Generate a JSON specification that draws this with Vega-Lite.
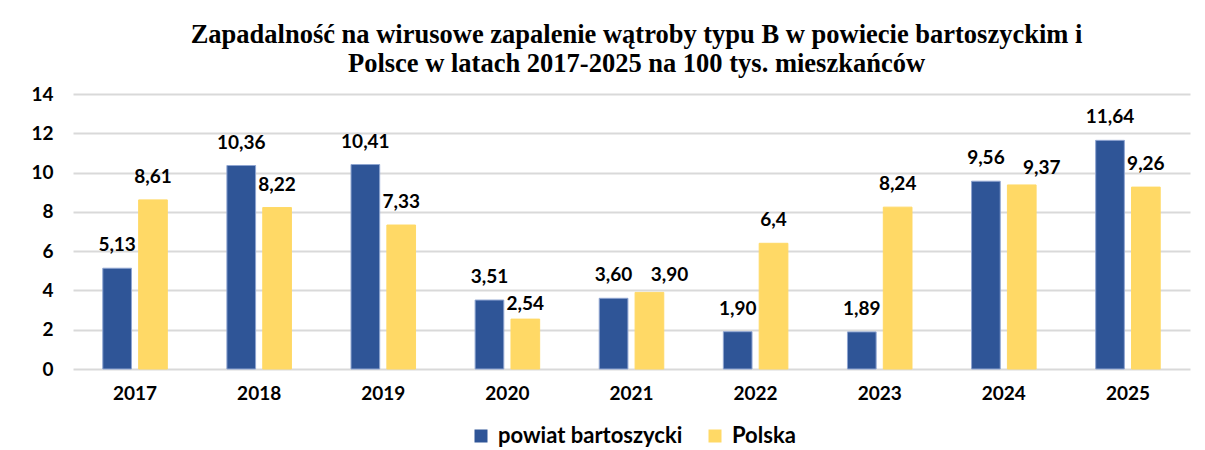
{
  "$schema": "https://vega.github.io/schema/vega-lite/v6.json",
  "width": 1117,
  "height": 275,
  "autosize": {"type": "none"},
  "padding": {"left": 73, "top": 94, "right": 15, "bottom": 81},
  "background": "white",
  "title": {
    "text": ["Zapadalność na wirusowe zapalenie wątroby typu B w powiecie bartoszyckim i", "Polsce w latach 2017-2025  na 100 tys. mieszkańców"],
    "font": "Liberation Serif",
    "fontSize": 26.5,
    "fontWeight": "bold",
    "color": "black",
    "lineHeight": 29,
    "offset": 8,
    "anchor": "middle",
    "dx": 5
  },
  "data": {
    "values": [
      {"rok": "2017", "seria": "powiat bartoszycki", "wartosc": 5.13, "etykieta": "5,13"},
      {"rok": "2017", "seria": "Polska", "wartosc": 8.61, "etykieta": "8,61"},
      {"rok": "2018", "seria": "powiat bartoszycki", "wartosc": 10.36, "etykieta": "10,36"},
      {"rok": "2018", "seria": "Polska", "wartosc": 8.22, "etykieta": "8,22"},
      {"rok": "2019", "seria": "powiat bartoszycki", "wartosc": 10.41, "etykieta": "10,41"},
      {"rok": "2019", "seria": "Polska", "wartosc": 7.33, "etykieta": "7,33"},
      {"rok": "2020", "seria": "powiat bartoszycki", "wartosc": 3.51, "etykieta": "3,51"},
      {"rok": "2020", "seria": "Polska", "wartosc": 2.54, "etykieta": "2,54"},
      {"rok": "2021", "seria": "powiat bartoszycki", "wartosc": 3.60, "etykieta": "3,60"},
      {"rok": "2021", "seria": "Polska", "wartosc": 3.90, "etykieta": "3,90"},
      {"rok": "2022", "seria": "powiat bartoszycki", "wartosc": 1.90, "etykieta": "1,90"},
      {"rok": "2022", "seria": "Polska", "wartosc": 6.4, "etykieta": "6,4"},
      {"rok": "2023", "seria": "powiat bartoszycki", "wartosc": 1.89, "etykieta": "1,89"},
      {"rok": "2023", "seria": "Polska", "wartosc": 8.24, "etykieta": "8,24"},
      {"rok": "2024", "seria": "powiat bartoszycki", "wartosc": 9.56, "etykieta": "9,56"},
      {"rok": "2024", "seria": "Polska", "wartosc": 9.37, "etykieta": "9,37"},
      {"rok": "2025", "seria": "powiat bartoszycki", "wartosc": 11.64, "etykieta": "11,64"},
      {"rok": "2025", "seria": "Polska", "wartosc": 9.26, "etykieta": "9,26"}
    ]
  },
  "encoding": {
    "x": {
      "field": "rok",
      "type": "nominal",
      "title": null,
      "scale": {"paddingInner": 0.48, "paddingOuter": 0.24},
      "axis": {
        "labelAngle": 0,
        "domain": false,
        "ticks": false,
        "labelFont": "Lato",
        "labelFontSize": 19,
        "labelFontWeight": "bold",
        "labelColor": "black",
        "labelPadding": 15
      }
    },
    "xOffset": {
      "field": "seria",
      "type": "nominal",
      "sort": ["powiat bartoszycki", "Polska"],
      "scale": {"paddingInner": 0.2, "paddingOuter": 0}
    },
    "y": {
      "field": "wartosc",
      "type": "quantitative",
      "title": null,
      "scale": {"domain": [0, 14], "nice": false},
      "axis": {
        "values": [0, 2, 4, 6, 8, 10, 12, 14],
        "domain": false,
        "ticks": false,
        "grid": true,
        "gridColor": "#D9D9D9",
        "gridWidth": 2,
        "labelFont": "Lato",
        "labelFontSize": 19,
        "labelFontWeight": "bold",
        "labelColor": "black",
        "labelPadding": 20
      }
    }
  },
  "layer": [
    {
      "mark": {"type": "bar", "strokeWidth": 1},
      "encoding": {
        "color": {
          "field": "seria",
          "type": "nominal",
          "scale": {"domain": ["powiat bartoszycki", "Polska"], "range": ["#2F5597", "#FFD966"]},
          "legend": {
            "title": null,
            "orient": "none",
            "legendX": 397,
            "legendY": 331,
            "direction": "horizontal",
            "symbolType": "square",
            "symbolSize": 169,
            "symbolStrokeWidth": 0,
            "labelFont": "Lato",
            "labelFontSize": 22,
            "labelFontWeight": "bold",
            "labelColor": "black",
            "labelLimit": 400,
            "columnPadding": 21,
            "labelOffset": 6
          }
        },
        "stroke": {
          "field": "seria",
          "type": "nominal",
          "scale": {"domain": ["powiat bartoszycki", "Polska"], "range": ["#8FA5D1", "#FFD966"]},
          "legend": null
        }
      }
    },
    {
      "transform": [{"filter": "!(datum.seria == 'Polska' && (datum.rok == '2020' || datum.rok == '2021' || datum.rok == '2024'))"}],
      "mark": {"type": "text", "font": "Lato", "fontSize": 19, "fontWeight": "bold", "color": "black", "baseline": "middle", "dy": -23},
      "encoding": {
        "text": {"field": "etykieta", "type": "nominal"}
      }
    },
    {
      "transform": [{"filter": "datum.seria == 'Polska' && datum.rok == '2020'"}],
      "mark": {"type": "text", "font": "Lato", "fontSize": 19, "fontWeight": "bold", "color": "black", "baseline": "middle", "dy": -15},
      "encoding": {
        "text": {"field": "etykieta", "type": "nominal"}
      }
    },
    {
      "transform": [{"filter": "datum.seria == 'Polska' && (datum.rok == '2021' || datum.rok == '2024')"}],
      "mark": {"type": "text", "font": "Lato", "fontSize": 19, "fontWeight": "bold", "color": "black", "baseline": "middle", "dx": 20, "dy": -17},
      "encoding": {
        "text": {"field": "etykieta", "type": "nominal"}
      }
    }
  ],
  "config": {
    "view": {"stroke": null}
  }
}
